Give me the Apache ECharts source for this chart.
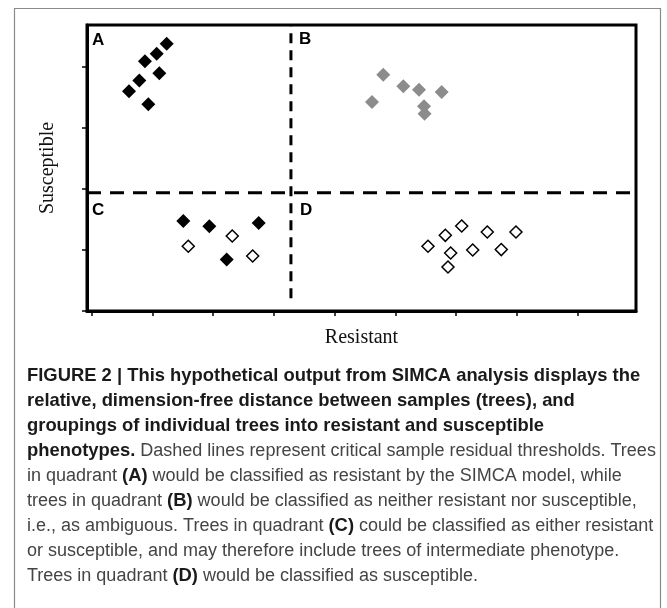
<!DOCTYPE html>
<html><head><meta charset="utf-8">
<script src="https://cdn.jsdelivr.net/npm/echarts@6/dist/echarts.min.js"></script>
<style>html,body{margin:0;padding:0;background:#fff}#c{width:667px;height:608px}</style>
</head><body><div id="c"></div>
<script>
// ---- data ----
const xTicks = [0, 1, 2, 3, 4, 5, 6, 7, 8];
const yTicks = [0, 1, 2, 3, 4];
const xRange = [-0.077, 8.96];
const yRange = [0, 4.69];
const xTitle = 'Resistant';
const yTitle = 'Susceptible';
const quadrantLabels = ['A', 'B', 'C', 'D'];
// quadrant A: resistant (filled black)
const groupA = [[1.235,4.384],[1.07,4.22],[0.877,4.094],[1.113,3.90],[0.784,3.78],[0.614,3.603],[0.932,3.389]];
// quadrant B: ambiguous (grey)
const groupB = [[4.80,3.875],[5.13,3.684],[5.388,3.63],[5.761,3.59],[4.614,3.426],[5.47,3.356],[5.48,3.236]];
// quadrant C: filled and open
const groupCFilled = [[1.508,1.475],[1.936,1.389],[2.749,1.443],[2.222,0.843]];
const groupCOpen = [[1.59,1.061],[2.314,1.23],[2.65,0.902]];
// quadrant D: susceptible (open)
const groupD = [[5.536,1.061],[5.821,1.241],[6.091,1.393],[6.512,1.295],[6.984,1.295],[5.909,0.951],[6.272,1.0],[6.742,1.007],[5.865,0.721]];
// thresholds
const thresholdX = 3.28;
const thresholdY = 1.94;
const verticalLineStart = 0.21;
const captionLines = [
  [['b','FIGURE 2 | This hypothetical output from SIMCA analysis displays the']],
  [['b','relative, dimension-free distance between samples (trees), and']],
  [['b','groupings of individual trees into resistant and susceptible']],
  [['b','phenotypes.'],['n',' Dashed lines represent critical sample residual thresholds. Trees']],
  [['n','in quadrant '],['b','(A)'],['n',' would be classified as resistant by the SIMCA model, while']],
  [['n','trees in quadrant '],['b','(B)'],['n',' would be classified as neither resistant nor susceptible,']],
  [['n','i.e., as ambiguous. Trees in quadrant '],['b','(C)'],['n',' could be classified as either resistant']],
  [['n','or susceptible, and may therefore include trees of intermediate phenotype.']],
  [['n','Trees in quadrant '],['b','(D)'],['n',' would be classified as susceptible.']]
];

// ---- chart ----
const chart = echarts.init(document.getElementById('c'), null, {renderer: 'canvas'});
const serif = '"Liberation Serif","Times New Roman",serif';
const sans = '"Liberation Sans",Arial,sans-serif';
const capSize = 18;
const captionText = captionLines.map(l => l.map(([s, t]) => '{' + s + '|' + t + '}').join('')).join('\n');

const filled = {color: '#000', opacity: 1};
const openStyle = {color: '#fff', borderColor: '#000', borderWidth: 1.5, opacity: 1};
const labelPos = [[92, 32], [299, 31], [92, 202], [300, 202]];

chart.setOption({
  animation: false,
  backgroundColor: '#fff',
  grid: {left: 87, top: 25, width: 549, height: 286, show: true, borderColor: '#000', borderWidth: 3, backgroundColor: 'transparent'},
  xAxis: {
    type: 'value', min: xRange[0], max: xRange[1],
    name: xTitle, nameLocation: 'middle', nameGap: 17,
    nameTextStyle: {fontFamily: serif, fontSize: 20, color: '#111'},
    axisLine: {show: true, onZero: false, lineStyle: {color: '#000', width: 3}},
    axisTick: {show: true, customValues: xTicks, length: 5, inside: false, lineStyle: {color: '#000', width: 1.5}},
    axisLabel: {show: false}, splitLine: {show: false}
  },
  yAxis: {
    type: 'value', min: yRange[0], max: yRange[1],
    name: yTitle, nameLocation: 'middle', nameGap: 29, nameRotate: 90,
    nameTextStyle: {fontFamily: serif, fontSize: 20, color: '#111'},
    axisLine: {show: true, onZero: false, lineStyle: {color: '#000', width: 3}},
    axisTick: {show: true, customValues: yTicks, length: 5, inside: false, lineStyle: {color: '#000', width: 1.5}},
    axisLabel: {show: false}, splitLine: {show: false}
  },
  series: [
    {type: 'line', data: [[xRange[0], thresholdY], [xRange[1], thresholdY]], symbol: 'none', silent: true,
     lineStyle: {color: '#000', width: 3, type: [14, 9]}, z: 3},
    {type: 'line', data: [[thresholdX, verticalLineStart], [thresholdX, yRange[1]]], symbol: 'none', silent: true,
     lineStyle: {color: '#000', width: 3, type: [10, 7]}, z: 3},
    {type: 'scatter', data: groupA, symbol: 'diamond', symbolSize: 14, itemStyle: filled, z: 4},
    {type: 'scatter', data: groupB, symbol: 'diamond', symbolSize: 14, itemStyle: {color: '#8c8c8c', opacity: 1}, z: 4},
    {type: 'scatter', data: groupCFilled, symbol: 'diamond', symbolSize: 14, itemStyle: filled, z: 4},
    {type: 'scatter', data: groupCOpen, symbol: 'diamond', symbolSize: 12, itemStyle: openStyle, z: 4},
    {type: 'scatter', data: groupD, symbol: 'diamond', symbolSize: 12, itemStyle: openStyle, z: 4}
  ],
  graphic: [
    {type: 'rect', left: 12, top: 6, shape: {width: 646, height: 640}, style: {fill: 'none', stroke: '#8a8a8a', lineWidth: 1.2}, z: 0},
    ...quadrantLabels.map((t, i) => ({type: 'text', left: labelPos[i][0], top: labelPos[i][1], z: 10,
      style: {text: t, font: 'bold 17px ' + sans, fill: '#000'}})),
    {type: 'text', left: 27, top: 367, z: 10,
     style: {text: captionText, font: capSize + 'px ' + sans, fill: '#404040',
       rich: {
         b: {fontFamily: sans, fontSize: 18.4, fontWeight: 'bold', fill: '#1a1a1a', lineHeight: 25},
         n: {fontFamily: sans, fontSize: capSize, fontWeight: 'normal', fill: '#444', lineHeight: 25}
       }}}
  ]
});
</script></body></html>
